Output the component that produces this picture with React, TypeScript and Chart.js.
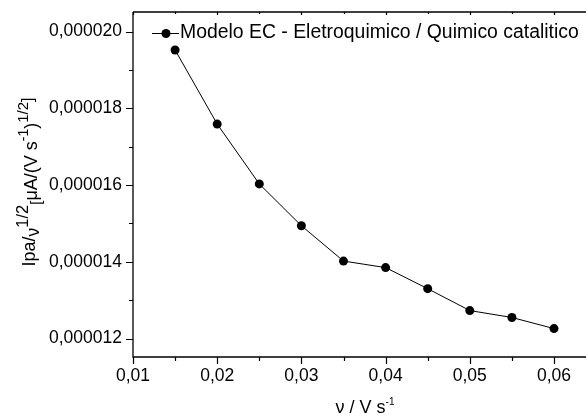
import { useEffect, useRef } from 'react';
import { Chart, registerables } from 'chart.js';

Chart.register(...registerables);

const scanRates = [0.015, 0.02, 0.025, 0.03, 0.035, 0.04, 0.045, 0.05, 0.055, 0.06];
const currentRatio = [19.52e-6, 17.59e-6, 16.03e-6, 14.94e-6, 14.02e-6, 13.85e-6, 13.3e-6, 12.73e-6, 12.55e-6, 12.26e-6];
const xMajorTicks = [0.01, 0.02, 0.03, 0.04, 0.05, 0.06];
const xMinorTicks = [0.015, 0.025, 0.035, 0.045, 0.055];
const yMajorTicks = [12e-6, 14e-6, 16e-6, 18e-6, 20e-6];
const yMinorTicks = [13e-6, 15e-6, 17e-6, 19e-6];
const legendLabel = 'Modelo EC - Eletroquimico / Quimico catalitico';

const FONT = '"Liberation Sans", Arial, sans-serif';

type Seg = { t: string; size: number; dy: number };

const yTitle: Seg[] = [
  { t: 'Ipa/', size: 18, dy: 0 },
  { t: 'ν', size: 17.5, dy: 4 },
  { t: '1/2', size: 16.5, dy: -7 },
  { t: '[', size: 15, dy: 6 },
  { t: 'μA/(V s', size: 18, dy: 2 },
  { t: '-1', size: 14, dy: -7 },
  { t: ')', size: 18, dy: 2 },
  { t: '1/2', size: 15, dy: -7 },
  { t: ']', size: 16, dy: -2 },
];

const xTitle: Seg[] = [
  { t: 'ν / V s', size: 18, dy: 0 },
  { t: '-1', size: 10, dy: -8 },
];

function drawSegs(ctx: CanvasRenderingContext2D, segs: Seg[]) {
  let total = 0;
  for (const s of segs) {
    ctx.font = `${s.size}px ${FONT}`;
    total += ctx.measureText(s.t).width;
  }
  let cx = -total / 2;
  for (const s of segs) {
    ctx.font = `${s.size}px ${FONT}`;
    ctx.fillText(s.t, cx, s.dy);
    cx += ctx.measureText(s.t).width;
  }
}

const decorPlugin = {
  id: 'decor',
  afterDraw(chart: any) {
    const ctx: CanvasRenderingContext2D = chart.ctx;
    const { left, right, top, bottom } = chart.chartArea;
    const xs = chart.scales.x;
    const ys = chart.scales.y;
    ctx.save();
    ctx.strokeStyle = '#000';
    ctx.fillStyle = '#000';
    ctx.lineWidth = 1.3;
    ctx.beginPath();
    ctx.moveTo(left, top);
    ctx.lineTo(left, bottom);
    ctx.lineTo(right, bottom);
    ctx.moveTo(left, top);
    ctx.lineTo(right, top);
    ctx.stroke();
    ctx.lineWidth = 1.2;
    ctx.beginPath();
    for (const v of xMajorTicks) {
      const px = Math.round(xs.getPixelForValue(v)) + 0.5;
      ctx.moveTo(px, bottom);
      ctx.lineTo(px, bottom + 7);
      ctx.moveTo(px, top);
      ctx.lineTo(px, top + 3);
    }
    for (const v of xMinorTicks) {
      const px = Math.round(xs.getPixelForValue(v)) + 0.5;
      ctx.moveTo(px, bottom);
      ctx.lineTo(px, bottom + 4);
      ctx.moveTo(px, top);
      ctx.lineTo(px, top + 2);
    }
    for (const v of yMajorTicks) {
      const py = Math.round(ys.getPixelForValue(v)) + 0.5;
      ctx.moveTo(left, py);
      ctx.lineTo(left - 7, py);
    }
    for (const v of yMinorTicks) {
      const py = Math.round(ys.getPixelForValue(v)) + 0.5;
      ctx.moveTo(left, py);
      ctx.lineTo(left - 4, py);
    }
    ctx.stroke();

    // legend
    const ly = top + 21.5;
    const lx = left + 19;
    ctx.lineWidth = 1;
    ctx.beginPath();
    ctx.moveTo(lx, ly);
    ctx.lineTo(lx + 27, ly);
    ctx.stroke();
    ctx.beginPath();
    ctx.arc(lx + 14, ly, 4.5, 0, Math.PI * 2);
    ctx.fill();
    ctx.font = `19.4px ${FONT}`;
    ctx.textBaseline = 'alphabetic';
    ctx.textAlign = 'left';
    ctx.fillText(legendLabel, lx + 28, ly + 4.5);

    // x title
    ctx.save();
    ctx.translate(365, 413);
    drawSegs(ctx, xTitle);
    ctx.restore();

    // y title
    ctx.save();
    ctx.translate(35, 182);
    ctx.rotate(-Math.PI / 2);
    drawSegs(ctx, yTitle);
    ctx.restore();

    ctx.restore();
  },
};

export default function App() {
  const ref = useRef<HTMLCanvasElement>(null);
  useEffect(() => {
    if (!ref.current) return;
    const chart = new Chart(ref.current, {
      type: 'line',
      data: {
        datasets: [
          {
            label: legendLabel,
            data: scanRates.map((x, i) => ({ x, y: currentRatio[i] })),
            borderColor: '#000',
            backgroundColor: '#000',
            borderWidth: 1,
            pointRadius: 4.5,
            pointBorderWidth: 0,
            pointBackgroundColor: '#000',
            tension: 0,
          },
        ],
      },
      options: {
        animation: false,
        responsive: false,
        devicePixelRatio: 1,
        layout: { autoPadding: false, padding: { top: 12, right: 0, left: 0, bottom: 0 } },
        plugins: { legend: { display: false }, tooltip: { enabled: false } },
        scales: {
          x: {
            type: 'linear',
            min: 0.01,
            max: 0.0638,
            grid: { display: false, drawTicks: false },
            border: { display: false },
            afterBuildTicks: (s: any) => {
              s.ticks = xMajorTicks.map((v) => ({ value: v }));
            },
            afterFit: (s: any) => {
              s.height = 59;
              s.paddingLeft = 0;
              s.paddingRight = 0;
            },
            ticks: {
              autoSkip: false,
              maxRotation: 0,
              padding: 9,
              color: '#000',
              font: { family: FONT, size: 17.5 },
              callback: (v: any) => Number(v).toFixed(2).replace('.', ','),
            },
          },
          y: {
            type: 'linear',
            min: 11.52e-6,
            max: 20.51e-6,
            grid: { display: false, drawTicks: false },
            border: { display: false },
            afterBuildTicks: (s: any) => {
              s.ticks = yMajorTicks.map((v) => ({ value: v }));
            },
            afterFit: (s: any) => {
              s.width = 133;
              s.paddingTop = 0;
              s.paddingBottom = 0;
            },
            ticks: {
              autoSkip: false,
              padding: 11,
              color: '#000',
              font: { family: FONT, size: 17.5 },
              callback: (v: any) => Number(v).toFixed(6).replace('.', ','),
            },
          },
        },
      },
      plugins: [decorPlugin],
    });
    return () => chart.destroy();
  }, []);
  return (
    <div style={{ position: 'absolute', left: 0, top: 0, width: 586, height: 416, background: '#fff' }}>
      <canvas ref={ref} width={586} height={416} />
    </div>
  );
}
